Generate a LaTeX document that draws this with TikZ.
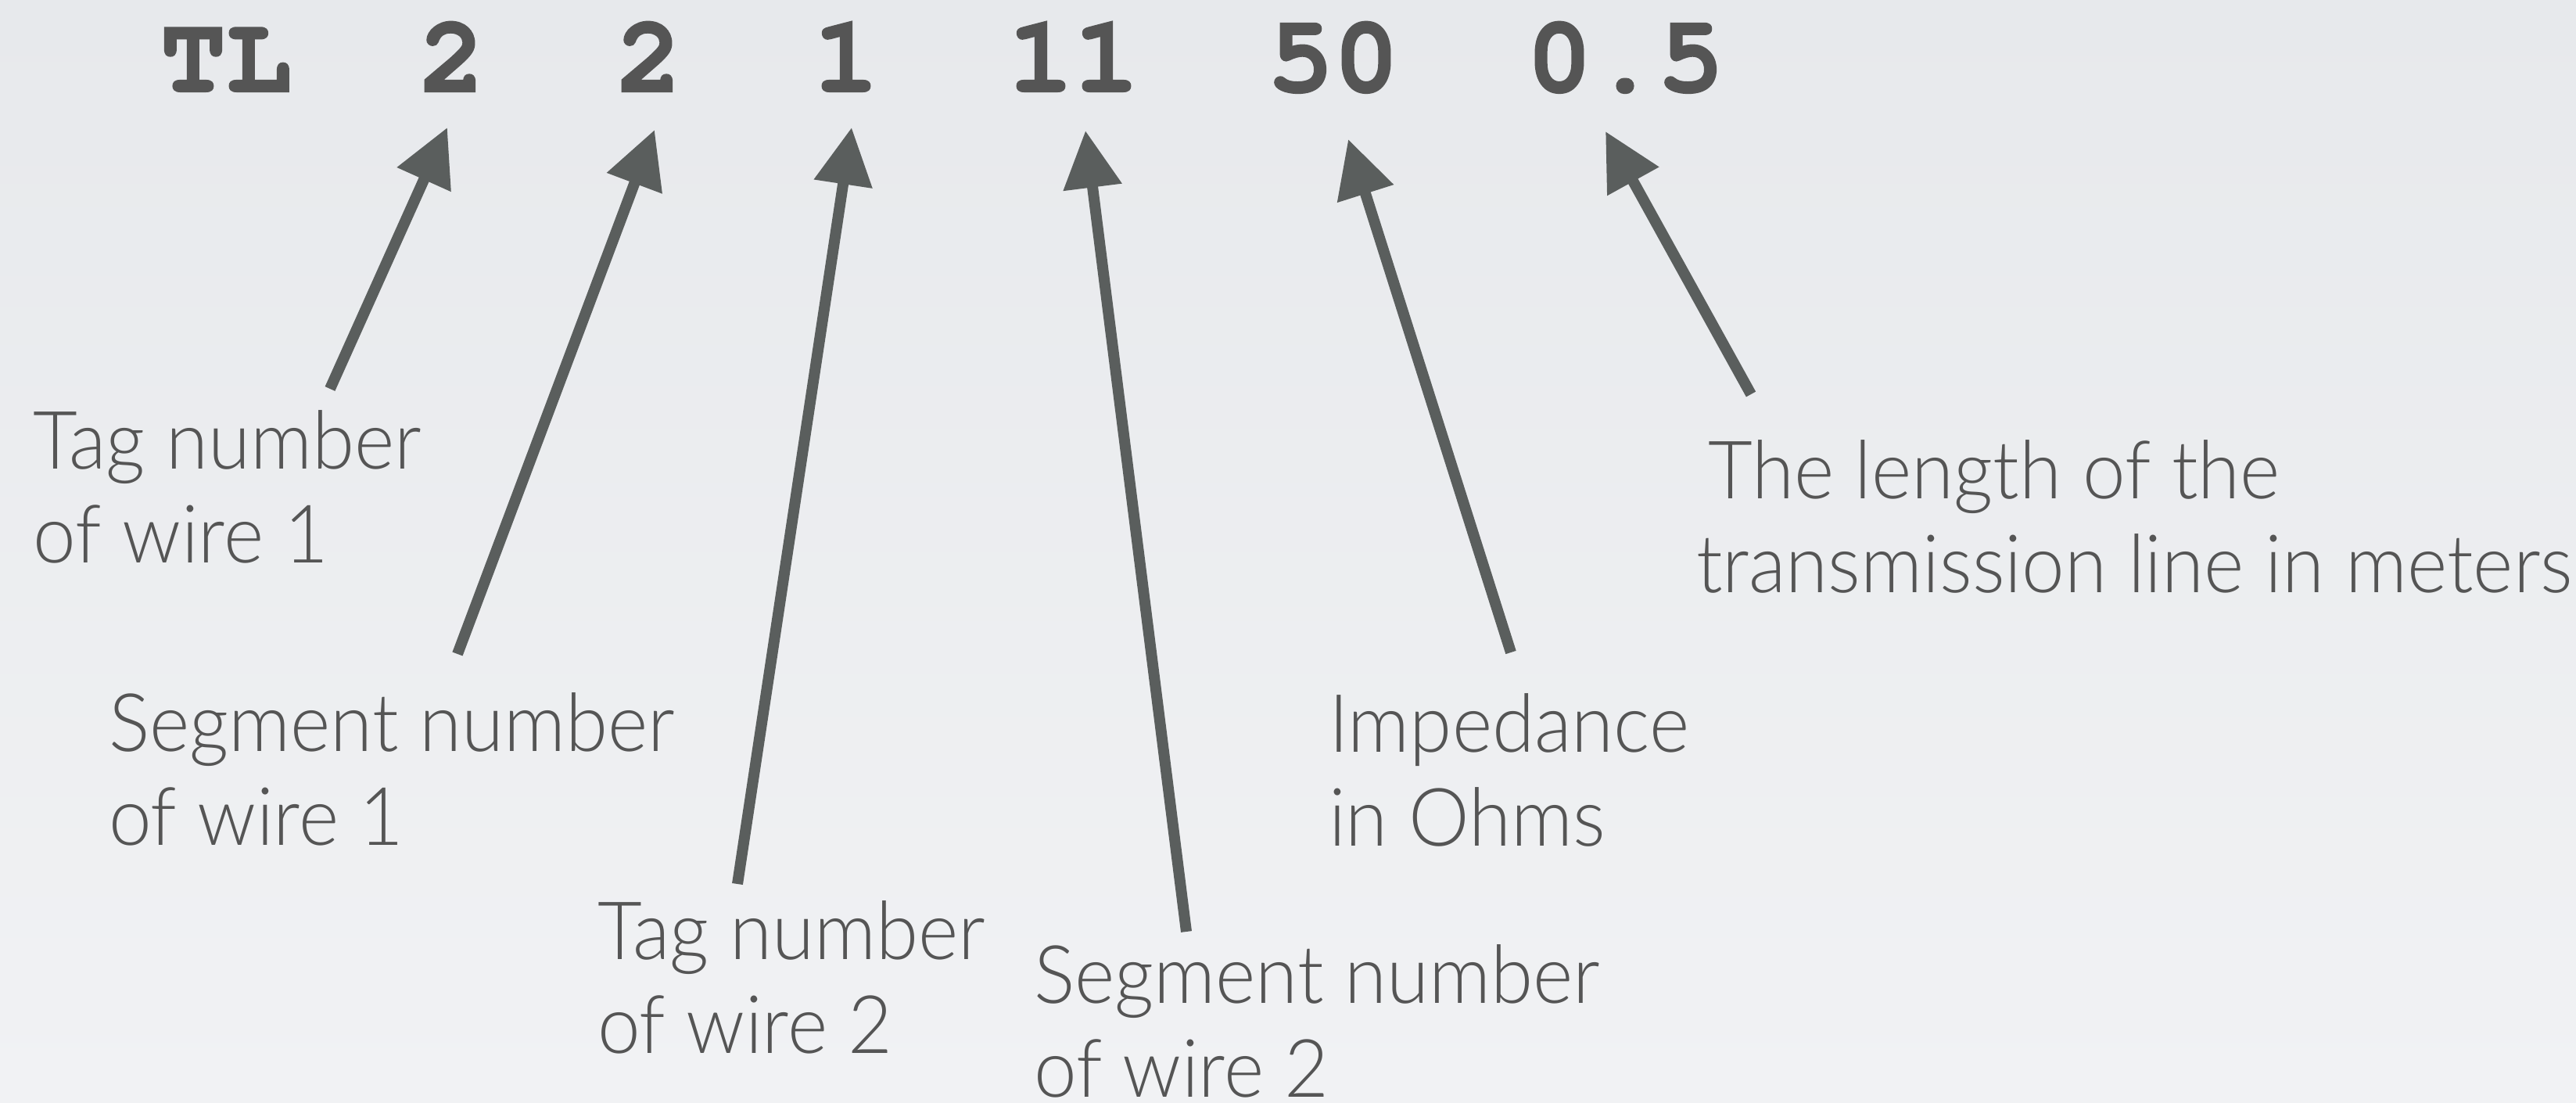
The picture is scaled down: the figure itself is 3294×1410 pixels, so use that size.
\documentclass[tikz,border=0pt]{standalone}
\usepackage{fontspec}
\usetikzlibrary{arrows.meta}
\newfontfamily\hdrfont{TeX Gyre Cursor}[BoldFeatures={FakeBold=1.5}]
\newfontfamily\labfont{Lato}[UprightFont=* Light, FakeStretch=0.953]
\definecolor{txtgray}{HTML}{555555}
\definecolor{arrgray}{HTML}{5A5E5D}
\definecolor{bgA}{HTML}{E7E9EC}
\definecolor{bgB}{HTML}{F1F2F4}
\tikzset{
  tok/.style={inner sep=0pt, anchor=base, text=txtgray, font=\hdrfont\bfseries\fontsize{14pt}{14pt}\selectfont},
  lbl/.style={inner sep=0pt, anchor=base west, text=txtgray, font=\labfont\fontsize{10.3pt}{12pt}\selectfont},
  arr/.style={draw=arrgray, line width=1.4pt, line cap=butt, -{Triangle[length=7.3pt,width=7.2pt]}},
}
\newcommand{\twolines}[2]{\vtop{\baselineskip=12pt\hbox{#1}\hbox{#2}}}
\begin{document}
\begin{tikzpicture}[x=0.1pt,y=-0.1pt]
\useasboundingbox (0,0) rectangle (3294,1410);
\shade[left color=bgA, right color=bgB, shading angle=0] (0,0) rectangle (3294,1410);
% header tokens
\node[tok] (tl) at (289,117) {TL};
\node[tok] (n1) at (578,117) {2};
\node[tok] (n2) at (830,117) {2};
\node[tok] (n3) at (1082,117) {1};
\node[tok] (n4) at (1373,117) {11};
\node[tok] (n5) at (1705,117) {50};
\node[tok] (n6) at (2078,117) {0.5};
% labels
\node[lbl] (l1) at (41,600) {\twolines{Tag number}{of wire 1}};
\node[lbl] (l2) at (137,961) {\twolines{Segment number}{of wire 1}};
\node[lbl] (l3) at (762,1227) {\twolines{Tag number}{of wire 2}};
\node[lbl] (l4) at (1320,1283) {\twolines{Segment number}{of wire 2}};
\node[lbl] (l5) at (1697,962) {\twolines{Impedance}{in Ohms}};
\node[lbl] (l6) at (2167,638) {\twolines{\kern15\dimexpr0.1pt\relax The length of the}{transmission line in meters}};
% arrow ends
\coordinate (h1) at (572,163);
\coordinate (h2) at (837,166);
\coordinate (h3) at (1089,163);
\coordinate (h4) at (1388,167);
\coordinate (h5) at (1724,178);
\coordinate (h6) at (2053,168);
\coordinate (t1) at (422,497);
\coordinate (t2) at (585,836);
\coordinate (t3) at (943,1130);
\coordinate (t4) at (1517,1191);
\coordinate (t5) at (1932,834);
\coordinate (t6) at (2239,504);
\draw[arr] (t1) -- (h1);
\draw[arr] (t2) -- (h2);
\draw[arr] (t3) -- (h3);
\draw[arr] (t4) -- (h4);
\draw[arr] (t5) -- (h5);
\draw[arr] (t6) -- (h6);
\end{tikzpicture}
\end{document}
